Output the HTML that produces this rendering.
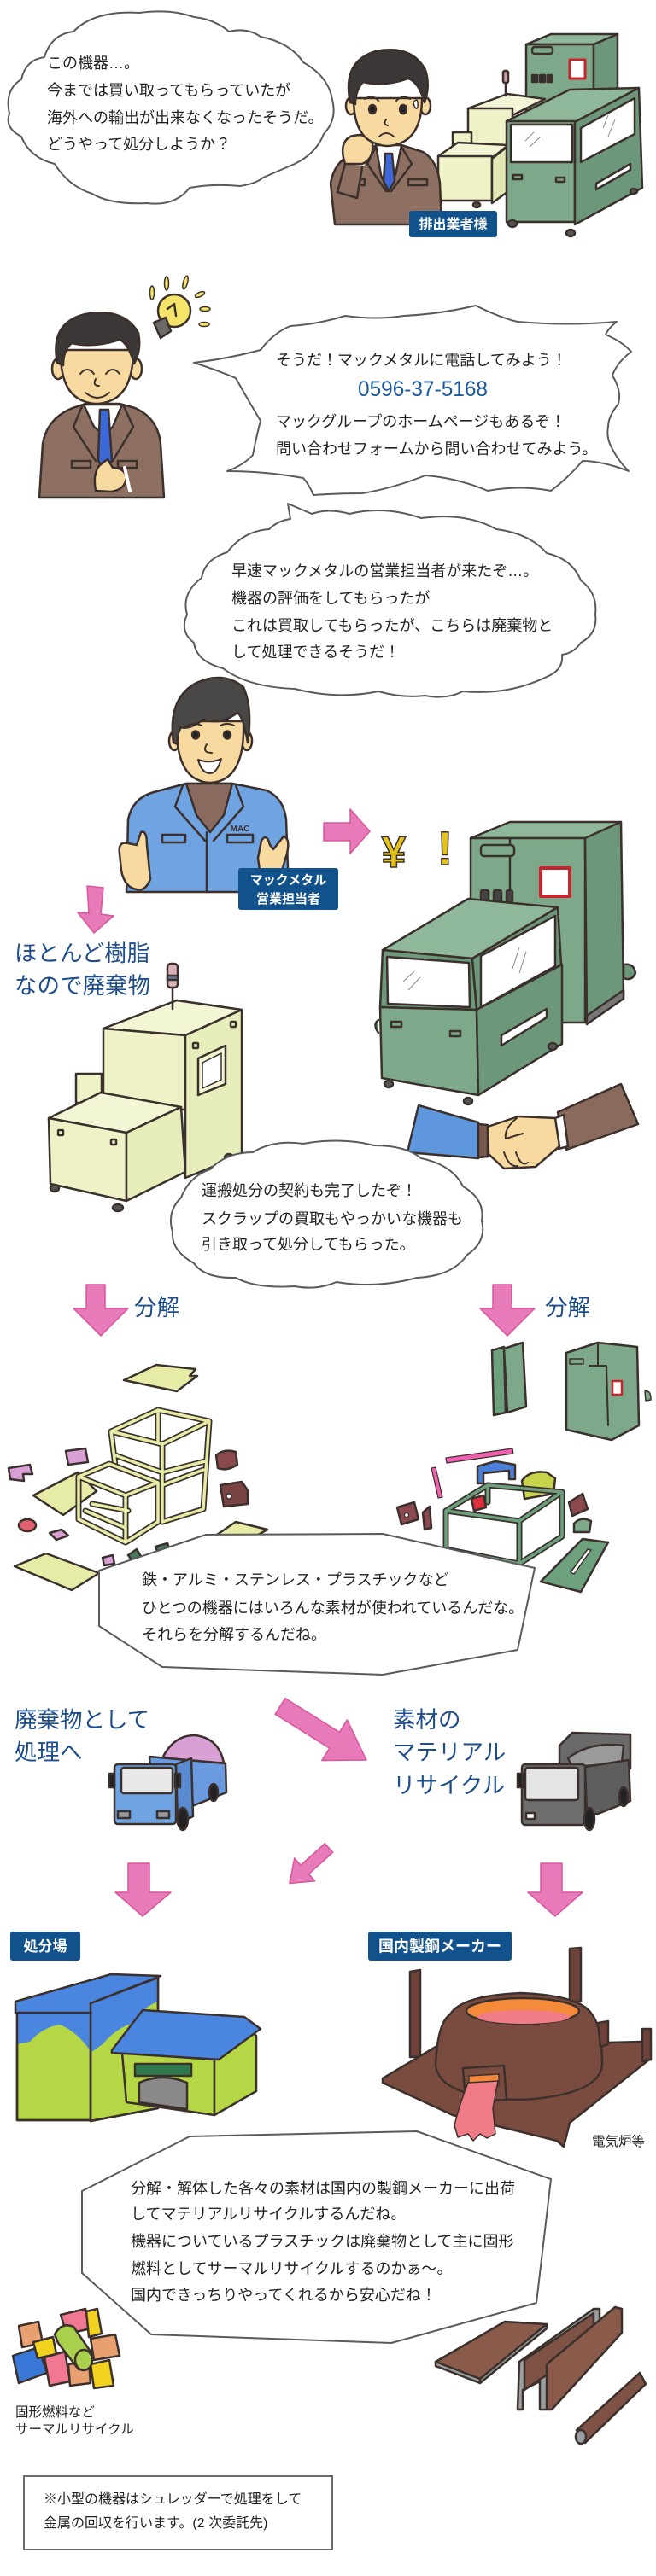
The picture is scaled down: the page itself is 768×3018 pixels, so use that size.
<!DOCTYPE html>
<html><head><meta charset="utf-8">
<style>
html,body{margin:0;padding:0;background:#fff;}
body{width:768px;height:3018px;overflow:hidden;}
svg{display:block;}
text{font-family:"Liberation Sans","Noto Sans CJK JP",sans-serif;}
.t{font-size:18px;fill:#222;}
.h{fill:#1e4d8c;font-size:26.5px;}
.lb{fill:#fff;font-weight:bold;}
.o{stroke:#3b302c;stroke-width:2.5;stroke-linejoin:round;stroke-linecap:round;}
.b{fill:#fff;stroke:#5a5a5a;stroke-width:2;stroke-linejoin:round;}
.ar{fill:#e77ab8;stroke:#d9559f;stroke-width:1.5;stroke-linejoin:round;}
.fr1{fill:none;stroke:#3b302c;stroke-width:7;stroke-linecap:round;stroke-linejoin:round;}
.fr2{fill:none;stroke:#e6eca6;stroke-width:3.5;stroke-linecap:round;stroke-linejoin:round;}
.fg1{fill:none;stroke:#3b302c;stroke-width:7;stroke-linecap:round;stroke-linejoin:round;}
.fg2{fill:none;stroke:#6da07c;stroke-width:3.5;stroke-linecap:round;stroke-linejoin:round;}
</style></head><body>
<svg width="768" height="3018" viewBox="0 0 768 3018" xmlns="http://www.w3.org/2000/svg">

<!-- ================= SECTION 1 ================= -->
<!-- bubble 1 -->
<path class="b" d="M52,67 Q60,40 86,37 Q110,12 163,15 Q200,10 227,20 Q250,22 268,37 Q290,32 305,43 Q340,50 355,73 Q385,90 389,117 Q395,140 379,157 Q370,180 345,192 L308,208 Q300,215 281,218 Q250,215 222,220 Q205,242 172,238 Q130,240 108,227 Q80,218 64,192 Q35,185 25,160 Q5,150 11,133 Q5,105 25,93 Q30,70 52,67 Z"/>
<text class="t" x="55" y="80">この機器…。</text>
<text class="t" x="55" y="112">今までは買い取ってもらっていたが</text>
<text class="t" x="55" y="144">海外への輸出が出来なくなったそうだ。</text>
<text class="t" x="55" y="175">どうやって処分しようか？</text>

<!-- machine 1 -->
<g class="o">
  <!-- tall cabinet -->
  <path d="M616,52 L645,40 L723,40 L695,52 Z" fill="#8fb89a"/>
  <rect x="616" y="52" width="79" height="80" fill="#7ea88a"/>
  <path d="M695,52 L723,40 L723,118 L695,132 Z" fill="#6c977a"/>
  <rect x="623" y="55" width="24" height="8" rx="3" fill="#7ea88a"/>
  <rect x="667" y="70" width="18" height="22" fill="#fff" stroke="#c8242c" stroke-width="3"/>
  <rect x="623" y="88" width="6" height="8" fill="#333"/>
  <rect x="632" y="88" width="6" height="8" fill="#333"/>
  <rect x="641" y="88" width="5" height="8" fill="#333"/>
  <!-- cream boxes -->
  <path d="M548,127 L594,110 L638,116 L600,135 Z" fill="#f3f6d4"/>
  <rect x="548" y="127" width="52" height="55" fill="#eef2c6"/>
  <rect x="530" y="155" width="22" height="30" fill="#eef2c6"/>
  <path d="M513,183 L536,167 L595,170 L575,186 Z" fill="#f3f6d4"/>
  <rect x="513" y="183" width="63" height="52" fill="#eef2c6"/>
  <path d="M576,186 L596,170 L598,222 L576,238 Z" fill="#e2e8b4"/>
  <line x1="592" y1="83" x2="592" y2="112"/>
  <rect x="589" y="83" width="6" height="14" rx="2" fill="#c9a0a8"/>
  <ellipse cx="558" cy="240" rx="4" ry="3" fill="#555"/>
  <!-- front green box -->
  <path d="M593,142 L667,105 L748,103 L673,143 Z" fill="#8fb89a"/>
  <rect x="593" y="142" width="80" height="118" fill="#7ea88a"/>
  <rect x="598" y="146" width="72" height="44" fill="#fff"/>
  <path d="M673,143 L748,103 L752,220 L673,263 Z" fill="#6c977a"/>
  <path d="M680,150 L743,115 L743,157 L680,190 Z" fill="#fff"/>
  <path d="M698,215 L738,192 L738,199 L698,222 Z" fill="#fff"/>
  <rect x="601" y="205" width="10" height="5" fill="#7ea88a"/>
  <rect x="651" y="208" width="10" height="5" fill="#7ea88a"/>
  <ellipse cx="600" cy="262" rx="5" ry="4" fill="#555"/>
  <ellipse cx="668" cy="273" rx="5" ry="4" fill="#555"/>
  <ellipse cx="742" cy="224" rx="4" ry="3" fill="#555"/>
</g>
<g stroke="#888" stroke-width="1" fill="none">
  <path d="M615,165 L625,155 M620,172 L633,160 M706,150 L712,135 M712,160 L720,140"/>
</g>

<!-- man 1 -->
<g class="o">
  <path d="M392,263 L387,215 Q392,185 420,178 L442,170 L470,170 L495,178 Q512,188 515,215 L517,263 Z" fill="#8e7062"/>
  <path d="M440,170 L470,170 L463,205 L454,224 L446,205 Z" fill="#fff"/>
  <path d="M451,180 L459,180 L462,212 L455,224 L449,212 Z" fill="#3c68d8"/>
  <path d="M440,172 L430,192 L452,224 M470,172 L482,192 L458,224" fill="none"/>
  <rect x="405" y="210" width="22" height="7" fill="#8e7062"/>
  <rect x="478" y="210" width="22" height="7" fill="#8e7062"/>
  <path d="M395,225 L405,188 L425,190 L418,232 Z" fill="#8e7062"/>
  <path d="M404,190 L425,192" fill="none" stroke="#fff" stroke-width="4"/>
  <path d="M404,192 Q396,168 410,160 Q430,154 436,168 Q438,186 424,192 Z" fill="#f8d9a0"/>
  <ellipse cx="411" cy="124" rx="6" ry="10" fill="#f8d9a0"/>
  <ellipse cx="498" cy="124" rx="6" ry="10" fill="#f8d9a0"/>
  <path d="M414,115 Q414,160 440,168 Q453,174 468,168 Q494,158 494,115 Z" fill="#f8d9a0"/>
  <path d="M410,120 Q400,72 440,60 Q482,52 498,82 Q504,100 497,120 Q490,96 478,92 Q450,102 425,96 Q416,106 416,122 Z" fill="#3d3838"/>
  <ellipse cx="436" cy="128" rx="4" ry="5" fill="#222"/>
  <ellipse cx="472" cy="128" rx="4" ry="5" fill="#222"/>
  <path d="M427,116 Q436,110 443,118 M464,118 Q472,110 480,116 M444,160 Q452,152 461,160 M452,140 Q448,146 454,147" fill="none" stroke-width="2"/>
  <path d="M484,120 Q490,112 489,126 Q486,130 484,120 Z" fill="#fff" stroke-width="1.5"/>
</g>
<rect x="479" y="247" width="103" height="31" rx="3" fill="#12528c"/>
<text class="lb" x="530.5" y="268" font-size="16" text-anchor="middle">排出業者様</text>

<!-- ================= SECTION 2 ================= -->
<!-- bulb -->
<g class="o" stroke-width="2">
  <ellipse cx="204" cy="364" rx="19" ry="19" fill="#f6e46a"/>
  <path d="M180,378 L194,372 L200,388 L188,396 Z" fill="#6d6a6a"/>
  <path d="M196,362 L204,356 L206,370" fill="none"/>
  <g fill="#f6e46a" stroke-width="1.5">
    <ellipse cx="178" cy="343" rx="2.5" ry="8"/>
    <ellipse cx="195" cy="332" rx="2.5" ry="8"/>
    <ellipse cx="217" cy="331" rx="2.5" ry="8" transform="rotate(15 217 331)"/>
    <ellipse cx="234" cy="345" rx="6" ry="2.5" transform="rotate(-25 234 345)"/>
    <ellipse cx="240" cy="362" rx="6" ry="2.5"/>
    <ellipse cx="239" cy="380" rx="6" ry="2.5"/>
  </g>
</g>

<!-- man 2 -->
<g class="o">
  <path d="M46,583 L50,520 Q55,490 85,478 L100,473 L140,473 L158,478 Q185,490 188,520 L192,583 Z" fill="#8e7062"/>
  <path d="M98,474 L143,474 L132,500 L122,510 L110,500 Z" fill="#fff"/>
  <path d="M117,480 L127,480 L131,540 L122,550 L115,540 Z" fill="#3c68d8"/>
  <path d="M96,476 L86,500 L112,540 M145,476 L156,500 L132,540" fill="none"/>
  <rect x="84" y="540" width="22" height="8" fill="#8e7062"/>
  <rect x="138" y="540" width="22" height="8" fill="#8e7062"/>
  <path d="M112,575 Q108,553 118,544 L126,538 L132,548 Q146,548 148,560 Q146,574 130,576 Z" fill="#f8d9a0"/>
  <path d="M146,548 L152,575" fill="none" stroke="#fff" stroke-width="4"/>
  <ellipse cx="68" cy="432" rx="7" ry="12" fill="#f8d9a0"/>
  <ellipse cx="159" cy="432" rx="7" ry="12" fill="#f8d9a0"/>
  <path d="M71,410 Q70,460 98,470 Q113,476 128,470 Q156,460 156,410 Z" fill="#f8d9a0"/>
  <path d="M67,425 Q58,378 100,368 Q145,360 162,390 Q166,410 157,426 Q150,402 140,398 Q110,408 84,402 Q74,410 74,428 Z" fill="#3d3838"/>
  <path d="M94,438 Q102,428 110,438 M124,438 Q132,428 140,438 M100,460 Q114,472 128,460 M112,444 Q108,452 116,452" fill="none" stroke-width="2"/>
</g>

<!-- bubble 2 spiky -->
<path class="b" d="M305,410 Q320,390 340,382 Q372,380 404,370 Q440,375 473,370 Q515,368 557,358 Q585,372 606,377 Q665,382 722,377 Q712,385 709,392 Q728,400 739,412 Q722,425 717,440 Q728,458 724,473 Q712,488 712,500 Q710,510 714,520 Q722,538 736,552 Q705,540 682,540 Q665,560 645,575 Q608,568 571,575 Q535,560 498,557 Q460,572 424,578 Q395,578 367,580 Q362,568 355,560 Q310,552 266,552 Q285,545 296,533 Q300,512 305,493 Q290,468 276,443 Q250,432 227,425 Q268,420 305,410 Z"/>
<text class="t" x="323" y="428">そうだ！マックメタルに電話してみよう！</text>
<text x="495" y="464" font-size="25" fill="#1e5aa0" text-anchor="middle" textLength="152" lengthAdjust="spacingAndGlyphs">0596-37-5168</text>
<text class="t" x="323" y="500">マックグループのホームページもあるぞ！</text>
<text class="t" x="323" y="532">問い合わせフォームから問い合わせてみよう。</text>

<!-- bubble 3 -->
<path class="b" d="M337,590 L365,602 Q385,595 409,602 Q450,592 493,607 Q545,600 581,620 Q620,625 640,648 Q670,655 680,680 Q700,695 697,720 Q700,742 680,753 Q672,765 658,767 Q660,785 640,793 Q595,815 542,810 Q522,820 498,815 Q470,818 443,810 Q395,820 345,807 Q290,805 261,783 Q230,775 227,753 Q210,740 219,720 Q212,695 236,677 Q240,655 266,647 Q285,622 315,620 Q325,610 340,608 Z"/>
<text class="t" x="271" y="675">早速マックメタルの営業担当者が来たぞ…。</text>
<text class="t" x="271" y="707">機器の評価をしてもらったが</text>
<text class="t" x="271" y="739">これは買取してもらったが、こちらは廃棄物と</text>
<text class="t" x="271" y="770">して処理できるそうだ！</text>

<!-- man 3 -->
<g class="o">
  <path d="M148,1045 L150,960 Q155,935 180,928 L218,918 L272,918 L312,926 Q332,935 335,960 L338,1045 Z" fill="#6fa3e2"/>
  <path d="M218,918 L272,918 L262,955 L246,975 L230,955 Z" fill="#8a6a5e"/>
  <path d="M214,920 L205,945 L240,985 M276,920 L285,945 L250,985" fill="none"/>
  <line x1="242" y1="975" x2="242" y2="1045"/>
  <rect x="190" y="978" width="27" height="9" fill="#6fa3e2"/>
  <rect x="266" y="978" width="30" height="9" fill="#6fa3e2"/>
  <path d="M140,1000 Q138,985 150,988 L160,990 L165,975 Q172,972 172,990 L176,1030 Q170,1045 160,1042 Q146,1040 142,1020 Z" fill="#f8d9a0"/>
  <path d="M302,1005 L306,985 Q312,975 316,990 L320,995 L332,980 Q340,982 336,1000 L330,1020 L304,1020 Z" fill="#f8d9a0"/>
  <ellipse cx="204" cy="868" rx="6" ry="11" fill="#f8d9a0"/>
  <ellipse cx="289" cy="868" rx="6" ry="11" fill="#f8d9a0"/>
  <path d="M207,845 Q205,900 230,913 Q246,921 262,913 Q287,900 285,845 Z" fill="#f8d9a0"/>
  <path d="M203,870 Q196,818 230,800 Q262,786 285,805 Q296,830 290,870 Q285,840 278,835 Q258,850 238,843 Q222,855 212,852 Q207,860 208,872 Z" fill="#4a4747"/>
  <ellipse cx="229" cy="861" rx="4" ry="4.5" fill="#222"/>
  <ellipse cx="266" cy="861" rx="4" ry="4.5" fill="#222"/>
  <path d="M220,850 Q228,846 236,850 M258,850 Q266,846 274,850 M242,872 Q236,882 248,882" fill="none" stroke-width="2"/>
  <path d="M232,890 Q246,895 259,889 Q254,906 246,906 Q236,906 232,890 Z" fill="#fff" stroke-width="2"/>
</g>
<text x="281" y="974" font-size="10" fill="#3b302c" text-anchor="middle" font-weight="bold">MAC</text>
<rect x="279" y="1017" width="117" height="49" rx="3" fill="#12528c"/>
<text class="lb" x="337.5" y="1036" font-size="15" text-anchor="middle">マックメタル</text>
<text class="lb" x="337.5" y="1058" font-size="15" text-anchor="middle">営業担当者</text>

<!-- arrow right -->
<path class="ar" d="M379,964 L410,964 L410,948 L433,974 L410,1000 L410,985 L379,985 Z"/>
<!-- yen and ! -->
<text x="461" y="1016" font-size="52" font-weight="bold" fill="#e3c21e" stroke="#3b302c" stroke-width="1.5" text-anchor="middle">¥</text>
<text x="521" y="1013" font-size="56" font-weight="bold" fill="#e3c21e" stroke="#3b302c" stroke-width="1.5" text-anchor="middle">!</text>

<!-- green machine 2 -->
<g class="o">
  <path d="M551,982 L597,963 L727,963 L685,982 Z" fill="#8fb89a"/>
  <rect x="551" y="982" width="134" height="216" fill="#7ea88a"/>
  <line x1="597" y1="984" x2="597" y2="1110"/>
  <path d="M685,982 L727,963 L730,1167 L687,1198 Z" fill="#6c977a"/>
  <path d="M687,1190 L730,1160 L730,1170 L687,1200 Z" fill="#777"/>
  <path d="M730,1130 Q742,1128 744,1140 Q740,1150 730,1146 Z" fill="#6c977a"/>
  <rect x="563" y="990" width="39" height="13" rx="4" fill="#7ea88a"/>
  <rect x="633" y="1017" width="34" height="33" fill="#fff" stroke="#c8242c" stroke-width="4"/>
  <rect x="563" y="1043" width="9" height="14" rx="2" fill="#444"/>
  <rect x="578" y="1043" width="9" height="14" rx="2" fill="#444"/>
  <rect x="593" y="1043" width="7" height="14" rx="2" fill="#444"/>
  <path d="M448,1113 L548,1053 L653,1063 L553,1123 Z" fill="#8fb89a"/>
  <path d="M448,1113 L553,1123 L558,1183 L445,1180 Z" fill="#6e9a7c"/>
  <path d="M453,1121 L549,1128 L550,1180 L454,1176 Z" fill="#fff"/>
  <path d="M553,1123 L653,1063 L657,1130 L558,1183 Z" fill="#6c977a"/>
  <path d="M563,1120 L650,1073 L650,1132 L563,1180 Z" fill="#fff"/>
  <path d="M445,1180 L558,1183 L560,1283 L447,1263 Z" fill="#7ea88a"/>
  <path d="M558,1183 L658,1130 L658,1223 L560,1283 Z" fill="#6c977a"/>
  <path d="M587,1213 L640,1182 L640,1192 L587,1225 Z" fill="#fff"/>
  <rect x="458" y="1197" width="12" height="6" fill="#7ea88a"/>
  <rect x="527" y="1208" width="12" height="6" fill="#7ea88a"/>
  <path d="M443,1195 Q436,1200 443,1210" fill="#6c977a"/>
  <ellipse cx="455" cy="1270" rx="5" ry="4" fill="#555"/>
  <ellipse cx="548" cy="1290" rx="5" ry="4" fill="#555"/>
  <ellipse cx="647" cy="1226" rx="5" ry="4" fill="#555"/>
</g>
<g stroke="#888" stroke-width="1" fill="none">
  <path d="M472,1150 L485,1138 M478,1160 L492,1145 M600,1135 L608,1110 M608,1140 L616,1115"/>
</g>

<!-- arrow down near man 3 -->
<path class="ar" d="M102,1038 L121,1040 L118,1071 L133,1073 L110,1093 L91,1069 L104,1070 Z"/>

<!-- headings -->
<text class="h" x="17" y="1126">ほとんど樹脂</text>
<text class="h" x="17" y="1164">なので廃棄物</text>

<!-- cream machine -->
<g class="o">
  <rect x="89" y="1258" width="30" height="34" fill="#eef2c6"/>
  <path d="M121,1205 L207,1172 L283,1183 L217,1213 Z" fill="#f3f6d4"/>
  <path d="M121,1205 L217,1213 L217,1300 L121,1300 Z" fill="#eef2c6"/>
  <path d="M217,1213 L283,1183 L283,1353 L217,1380 Z" fill="#e8edbc"/>
  <path d="M232,1240 L264,1225 L264,1270 L232,1283 Z" fill="#f3f6d4"/>
  <path d="M237,1245 L259,1234 L259,1265 L237,1275 Z" fill="#fff" stroke-width="1.5"/>
  <path d="M57,1310 L118,1280 L212,1297 L148,1327 Z" fill="#f3f6d4"/>
  <path d="M57,1310 L148,1327 L148,1407 L59,1387 Z" fill="#eef2c6"/>
  <path d="M148,1327 L212,1297 L217,1373 L148,1407 Z" fill="#e8edbc"/>
  <rect x="68" y="1324" width="6" height="6" rx="1" fill="#eef2c6"/>
  <rect x="130" y="1335" width="6" height="6" rx="1" fill="#eef2c6"/>
  <rect x="270" y="1197" width="6" height="6" rx="1" fill="#eef2c6"/>
  <rect x="226" y="1222" width="6" height="6" rx="1" fill="#eef2c6"/>
  <line x1="202" y1="1157" x2="202" y2="1182"/>
  <rect x="196" y="1129" width="12" height="28" rx="4" fill="#d8b4b8"/>
  <rect x="196" y="1143" width="12" height="5" fill="#6a7aa0"/>
  <ellipse cx="64" cy="1392" rx="5" ry="4" fill="#555"/>
  <ellipse cx="138" cy="1415" rx="6" ry="4" fill="#555"/>
  <ellipse cx="268" cy="1356" rx="5" ry="4" fill="#555"/>
</g>

<!-- handshake -->
<g class="o">
  <path d="M490,1295 L560,1315 L560,1357 L477,1350 Z" fill="#5f97de"/>
  <path d="M560,1317 L571,1318 L571,1355 L560,1356 Z" fill="#7a5a4c"/>
  <path d="M653,1303 L727,1270 L747,1317 L663,1347 Z" fill="#8a6a5c"/>
  <path d="M650,1310 L660,1306 L665,1343 L654,1346 Z" fill="#fff"/>
  <path d="M571,1320 L607,1308 L650,1310 L655,1343 L627,1367 L590,1369 L572,1352 Z" fill="#f8d9a0"/>
  <path d="M605,1310 Q590,1322 592,1334 L612,1328 M590,1350 Q596,1368 606,1366 M604,1350 Q610,1368 618,1362" fill="none" stroke-width="2"/>
</g>

<!-- bubble 4 -->
<path class="b" d="M296,1350 Q320,1335 355,1340 Q400,1332 438,1342 Q475,1342 493,1357 Q530,1365 542,1390 Q568,1405 564,1430 Q570,1455 547,1470 Q530,1495 488,1497 Q440,1510 394,1502 Q370,1512 345,1507 Q300,1510 276,1497 Q240,1498 227,1480 Q200,1465 202,1443 Q195,1420 212,1403 Q222,1378 246,1370 Q265,1350 296,1350 Z"/>
<text class="t" x="236" y="1401">運搬処分の契約も完了したぞ！</text>
<text class="t" x="236" y="1434">スクラップの買取もやっかいな機器も</text>
<text class="t" x="236" y="1464">引き取って処分してもらった。</text>

<!-- 分解 arrows -->
<path class="ar" d="M101,1505 L123,1505 L123,1533 L150,1533 L118,1565 L86,1533 L101,1533 Z"/>
<text class="h" x="157" y="1541" font-size="33">分解</text>
<path class="ar" d="M577,1505 L599,1505 L599,1533 L626,1533 L594,1565 L562,1533 L577,1533 Z"/>
<text class="h" x="638" y="1541" font-size="33">分解</text>

<!-- ================= disassembled parts ================= -->
<!-- left group -->
<g class="o">
  <path d="M145,1617 L183,1599 L229,1604 L222,1612 L231,1612 L207,1630 Z" fill="#e6eca6"/>
  <path d="M39,1752 L91,1725 L113,1747 L74,1775 Z" fill="#e6eca6"/>
  <path d="M17,1835 L54,1820 L116,1843 L84,1863 Z" fill="#e6eca6"/>
  <path d="M251,1800 L276,1783 L313,1792 L290,1805 Z" fill="#e6eca6"/>
  <path d="M77,1700 L100,1697 L103,1713 L80,1716 Z" fill="#d8a0d4"/>
  <path d="M10,1720 L35,1716 L38,1727 L27,1727 L28,1735 L12,1733 Z" fill="#d8a0d4"/>
  <path d="M253,1705 Q262,1697 276,1701 L278,1716 Q265,1724 255,1720 Z" fill="#8a4a4e"/>
  <path d="M258,1740 L283,1736 L290,1746 L290,1762 L262,1765 Z" fill="#7a4444"/>
  <circle cx="268" cy="1753" r="3" fill="#fff" stroke-width="1.5"/>
  <ellipse cx="32" cy="1787" rx="10" ry="7" fill="#e06070"/>
  <path d="M58,1796 L72,1792 L80,1799 L66,1804 Z" fill="#d8a0d4"/>
  <path d="M120,1825 L132,1822 L134,1832 L122,1834 Z" fill="#d8a0d4"/>
  <path d="M150,1822 L160,1815 L166,1825 L156,1830 Z" fill="#4a7a60"/>
  <path d="M182,1812 L196,1808 L200,1820 L186,1822 Z" fill="#4a7a60"/>
</g>
<path class="fr1" d="M130,1677 L185,1652 L245,1665 L190,1692 Z M185,1652 L185,1690 M130,1677 L135,1717 M190,1692 L190,1783 M245,1665 L238,1768 L190,1783 M135,1705 L190,1725 L240,1712 M190,1740 L238,1722"/>
<path class="fr2" d="M130,1677 L185,1652 L245,1665 L190,1692 Z M185,1652 L185,1690 M130,1677 L135,1717 M190,1692 L190,1783 M245,1665 L238,1768 L190,1783 M135,1705 L190,1725 L240,1712 M190,1740 L238,1722"/>
<path class="fr1" d="M92,1730 L128,1715 L185,1737 L147,1752 Z M92,1730 L92,1780 L147,1807 L185,1783 L185,1737 M147,1752 L147,1807 M100,1770 L147,1790 M108,1762 L150,1770"/>
<path class="fr2" d="M92,1730 L128,1715 L185,1737 L147,1752 Z M92,1730 L92,1780 L147,1807 L185,1783 L185,1737 M147,1752 L147,1807 M100,1770 L147,1790 M108,1762 L150,1770"/>

<!-- right group -->
<g class="o">
  <path d="M576,1582 L590,1578 L592,1655 L578,1658 Z" fill="#6da07c"/>
  <path d="M590,1580 L612,1573 L616,1648 L594,1655 Z" fill="#7ea88a"/>
  <path d="M663,1585 L700,1573 L746,1578 L748,1670 L716,1687 L663,1675 Z" fill="#7ea88a"/>
  <path d="M700,1573 L700,1600 M690,1600 L710,1600 L712,1670" fill="none" stroke-width="2"/>
  <rect x="717" y="1618" width="11" height="16" fill="#fff" stroke="#c8242c" stroke-width="2.5"/>
  <rect x="667" y="1592" width="16" height="6" fill="#7ea88a" stroke-width="1.5"/>
  <path d="M755,1630 Q762,1628 762,1640 L756,1641 Z" fill="#7ea88a" stroke-width="1.5"/>
  <path d="M522,1708 L600,1697 L601,1703 L523,1714 Z" fill="#f060b0" stroke-width="1.2"/>
  <path d="M505,1720 L510,1719 L518,1754 L513,1755 Z" fill="#f060b0" stroke-width="1.2"/>
  <path d="M559,1718 L580,1712 L603,1716 L603,1733 L596,1733 L596,1723 L566,1726 L566,1738 L559,1738 Z" fill="#4a80d8"/>
  <path d="M611,1735 Q620,1722 640,1725 L650,1732 L648,1750 L614,1756 Z" fill="#c8d44c"/>
  <path d="M465,1766 L485,1760 L490,1780 L470,1786 Z" fill="#8a4a4e"/>
  <circle cx="476" cy="1775" r="2.5" fill="#fff" stroke-width="1.2"/>
  <path d="M495,1772 L503,1765 L505,1790 L497,1792 Z" fill="#8a4a4e"/>
  <path d="M552,1756 L566,1752 L569,1766 L555,1770 Z" fill="#e03040"/>
  <path d="M666,1760 L682,1750 L688,1768 L670,1776 Z" fill="#8a4a4e"/>
  <path d="M672,1785 Q680,1776 692,1782 L690,1795 L672,1795 Z" fill="#7ea88a"/>
  <path d="M633,1853 L682,1803 L712,1807 L680,1865 Z" fill="#6da07c"/>
  <path d="M668,1842 L688,1815 L692,1816 L672,1844 Z" fill="#fff" stroke-width="1.5"/>
</g>
<path class="fg1" d="M522,1770 L571,1740 L658,1748 L608,1782 Z M522,1770 L522,1815 L608,1832 L658,1800 L658,1748 M608,1782 L608,1832 M571,1740 L571,1760"/>
<path class="fg2" d="M522,1770 L571,1740 L658,1748 L608,1782 Z M522,1770 L522,1815 L608,1832 L658,1800 L658,1748 M608,1782 L608,1832 M571,1740 L571,1760"/>

<!-- octagon bubble -->
<path class="b" d="M241,1798 L448,1797 L626,1837 L606,1933 L448,1962 L190,1953 L116,1905 L116,1840 Z"/>
<text class="t" x="166" y="1857" font-size="17.8">鉄・アルミ・ステンレス・プラスチックなど</text>
<text class="t" x="166" y="1890" font-size="17.8">ひとつの機器にはいろんな素材が使われているんだな。</text>
<text class="t" x="166" y="1921" font-size="17.8">それらを分解するんだね。</text>

<!-- ================= trucks ================= -->
<text class="h" x="17" y="2024">廃棄物として</text>
<text class="h" x="17" y="2062">処理へ</text>
<text class="h" x="460" y="2024">素材の</text>
<text class="h" x="460" y="2062">マテリアル</text>
<text class="h" x="460" y="2101">リサイクル</text>

<path class="ar" transform="translate(328,1999) rotate(32)" d="M0,-11 L75,-11 L75,-28 L119,0 L75,28 L75,11 L0,11 Z"/>

<!-- blue truck -->
<g class="o">
  <path d="M187,2067 Q200,2033 228,2033 Q256,2036 262,2065 Z" fill="#d8a0d4"/>
  <path d="M175,2058 L264,2066 L265,2100 L220,2118 L178,2110 Z" fill="#6a9ae0"/>
  <path d="M206,2067 L224,2060 L226,2128 L208,2137 Z" fill="#5a8ad0"/>
  <rect x="134" y="2067" width="72" height="70" rx="4" fill="#6fa3e2"/>
  <rect x="142" y="2071" width="60" height="30" rx="3" fill="#e8e8e8"/>
  <rect x="138" y="2122" width="14" height="8" fill="#999"/>
  <rect x="184" y="2122" width="14" height="8" fill="#999"/>
  <rect x="128" y="2078" width="6" height="16" fill="#222"/>
  <rect x="205" y="2078" width="6" height="16" fill="#222"/>
  <ellipse cx="214" cy="2131" rx="6" ry="13" fill="#222"/>
  <ellipse cx="250" cy="2100" rx="5" ry="10" fill="#222"/>
</g>
<!-- gray truck -->
<g class="o">
  <path d="M655,2045 L670,2030 L738,2032 L738,2072 L690,2080 L655,2070 Z" fill="#6a6a6a"/>
  <path d="M665,2060 Q690,2040 730,2045 L728,2066 L670,2070 Z" fill="#9a9a9a"/>
  <path d="M685,2070 L736,2062 L738,2110 L700,2125 L687,2125 Z" fill="#5e5e5e"/>
  <rect x="611" y="2067" width="74" height="71" rx="4" fill="#6e6e6e"/>
  <rect x="615" y="2071" width="62" height="38" rx="3" fill="#e4e4e4"/>
  <rect x="616" y="2124" width="10" height="7" fill="#fff"/>
  <rect x="606" y="2078" width="6" height="16" fill="#222"/>
  <ellipse cx="690" cy="2131" rx="6" ry="13" fill="#222"/>
  <ellipse cx="730" cy="2105" rx="5" ry="11" fill="#222"/>
</g>

<!-- arrows to destinations -->
<path class="ar" transform="translate(385,2165) rotate(138)" d="M0,-7 L38,-7 L38,-18 L62,0 L38,18 L38,7 L0,7 Z"/>
<path class="ar" d="M150,2183 L175,2183 L175,2217 L200,2217 L167,2245 L135,2217 L150,2217 Z"/>
<path class="ar" d="M633,2183 L658,2183 L658,2217 L682,2217 L650,2245 L618,2217 L633,2217 Z"/>

<!-- labels -->
<rect x="12" y="2263" width="82" height="34" rx="3" fill="#12528c"/>
<text class="lb" x="53" y="2286" font-size="17" text-anchor="middle">処分場</text>
<rect x="431" y="2263" width="168" height="34" rx="3" fill="#12528c"/>
<text class="lb" x="515" y="2286.5" font-size="18" text-anchor="middle">国内製鋼メーカー</text>

<!-- building -->
<g class="o">
  <path d="M106,2347 L185,2317 L185,2470 L106,2485 Z" fill="#b5d645"/>
  <path d="M106,2347 L185,2317 L185,2345 Q165,2352 160,2370 Q140,2372 120,2395 L106,2405 Z" fill="#4a86e0" stroke="none"/>
  <rect x="20" y="2357" width="86" height="127" fill="#b5d645"/>
  <path d="M20,2357 L106,2357 L106,2403 Q90,2380 70,2372 Q50,2375 35,2392 L20,2395 Z" fill="#4a86e0" stroke="none"/>
  <rect x="20" y="2357" width="86" height="127" fill="none"/>
  <path d="M106,2347 L185,2317 L185,2470 L106,2485" fill="none"/>
  <path d="M18,2345 L130,2313 L188,2315 L106,2347 L106,2358 L18,2358 Z" fill="#4a86e0"/>
  <path d="M143,2405 L251,2413 L251,2478 L148,2463 Z" fill="#b5d645"/>
  <path d="M251,2413 L286,2372 L300,2385 L300,2450 L251,2478 Z" fill="#b5d645"/>
  <path d="M131,2402 L167,2355 L286,2363 L305,2377 L256,2413 L131,2405 Z" fill="#4a86e0"/>
  <path d="M163,2463 L163,2440 Q190,2428 219,2440 L219,2471 Z" fill="#8a8a8a"/>
  <rect x="158" y="2418" width="66" height="14" fill="#2f7a4a"/>
</g>

<!-- furnace -->
<g class="o">
  <path d="M480,2310 L492,2308 L492,2410 L480,2410 Z" fill="#6e4238"/>
  <path d="M667,2283 L680,2282 L680,2345 L667,2345 Z" fill="#6e4238"/>
  <path d="M448,2435 L510,2398 L752,2392 L762,2400 L760,2413 L667,2487 L660,2515 L652,2508 L530,2478 L448,2440 Z" fill="#7a4c40"/>
  <path d="M752,2377 L762,2377 L762,2413 L752,2415 Z" fill="#6e4238"/>
  <path d="M510,2420 Q512,2370 527,2360 Q540,2338 610,2335 Q680,2338 693,2360 Q705,2375 705,2420 Q700,2455 610,2460 Q515,2458 510,2420 Z" fill="#7a4c40"/>
  <path d="M700,2370 L712,2368 L712,2395 L703,2398 Z" fill="#6e4238"/>
  <ellipse cx="612" cy="2356" rx="66" ry="15" fill="#f58a3a"/>
  <ellipse cx="613" cy="2363" rx="54" ry="8" fill="#ef7c86" stroke="none"/>
  <path d="M542,2423 L590,2420 L593,2460 L545,2462 Z" fill="#7a4c40"/>
  <path d="M549,2432 L584,2430 L584,2444 L549,2445 Z" fill="#f58a3a" stroke-width="1.5"/>
  <path d="M548,2440 L583,2438 L577,2470 L580,2500 L570,2505 L562,2500 L554,2508 L548,2500 L536,2504 L532,2490 Q538,2465 548,2440 Z" fill="#ef7c86" stroke="#3b302c" stroke-width="1.5"/>
</g>
<text x="693" y="2514" font-size="15.5" fill="#222">電気炉等</text>

<!-- bubble 6 -->
<path class="b" d="M222,2503 L488,2497 L645,2553 L628,2698 L458,2745 L177,2735 L96,2663 L96,2567 Z"/>
<text class="t" x="153" y="2570">分解・解体した各々の素材は国内の製鋼メーカーに出荷</text>
<text class="t" x="153" y="2600">してマテリアルリサイクルするんだね。</text>
<text class="t" x="153" y="2632">機器についているプラスチックは廃棄物として主に固形</text>
<text class="t" x="153" y="2664">燃料としてサーマルリサイクルするのかぁ〜。</text>
<text class="t" x="153" y="2695">国内できっちりやってくれるから安心だね！</text>

<!-- fuel blocks -->
<g class="o" stroke-width="2">
  <path d="M22,2725 L45,2720 L50,2745 L26,2750 Z" fill="#e8a070"/>
  <path d="M71,2712 L100,2705 L108,2728 L78,2734 Z" fill="#f07890"/>
  <path d="M101,2708 L114,2705 L119,2734 L104,2738 Z" fill="#f2d21e"/>
  <path d="M15,2760 L45,2750 L55,2780 L22,2792 Z" fill="#3a78d8"/>
  <path d="M39,2744 L62,2738 L66,2758 L44,2763 Z" fill="#f2d21e"/>
  <path d="M52,2762 L76,2755 L82,2790 L58,2795 Z" fill="#f07890"/>
  <path d="M80,2770 L104,2766 L106,2792 L82,2795 Z" fill="#e8a070"/>
  <path d="M106,2740 L135,2735 L140,2760 L110,2765 Z" fill="#e8a070"/>
  <path d="M106,2770 L128,2765 L133,2795 L110,2798 Z" fill="#f2d21e"/>
  <path d="M64,2735 Q72,2720 86,2726 L108,2758 Q108,2778 92,2776 L68,2745 Z" fill="#a8d04c"/>
  <ellipse cx="98" cy="2765" rx="10" ry="12" fill="#a8d04c"/>
</g>
<text x="18" y="2831" font-size="15.5" fill="#222">固形燃料など</text>
<text x="18" y="2851" font-size="15.5" fill="#222">サーマルリサイクル</text>

<!-- steel -->
<g class="o" stroke-width="2">
  <path d="M510,2767 L591,2720 L640,2723 L562,2787 Z" fill="#8a5a4a"/>
  <path d="M510,2767 L562,2787 L562,2792 L510,2772 Z" fill="#9aa0a0"/>
  <path d="M562,2787 L640,2723 L640,2728 L562,2792 Z" fill="#9aa0a0"/>
  <path d="M608,2767 L695,2705 L702,2705 L702,2760 L640,2823 L632,2823 L632,2790 L612,2800 L612,2823 L606,2823 Z" fill="#9aa0a0"/>
  <path d="M614,2765 L695,2710 L695,2745 L614,2800 Z" fill="#7e5244"/>
  <path d="M640,2770 L720,2703 L728,2705 L728,2733 L646,2823 L640,2823 Z" fill="#8a5a4a"/>
  <path d="M675,2847 L749,2780 L756,2793 L685,2862 Z" fill="#7e5244"/>
  <ellipse cx="680" cy="2855" rx="6" ry="8" fill="#9aa0a0"/>
</g>

<!-- note box -->
<rect x="28" y="2901" width="361" height="86" fill="#fff" stroke="#6a6a6a" stroke-width="2"/>
<text x="51" y="2933" font-size="16" fill="#222">※小型の機器はシュレッダーで処理をして</text>
<text x="51" y="2961" font-size="16" fill="#222">金属の回収を行います。(2 次委託先)</text>

</svg>
</body></html>
